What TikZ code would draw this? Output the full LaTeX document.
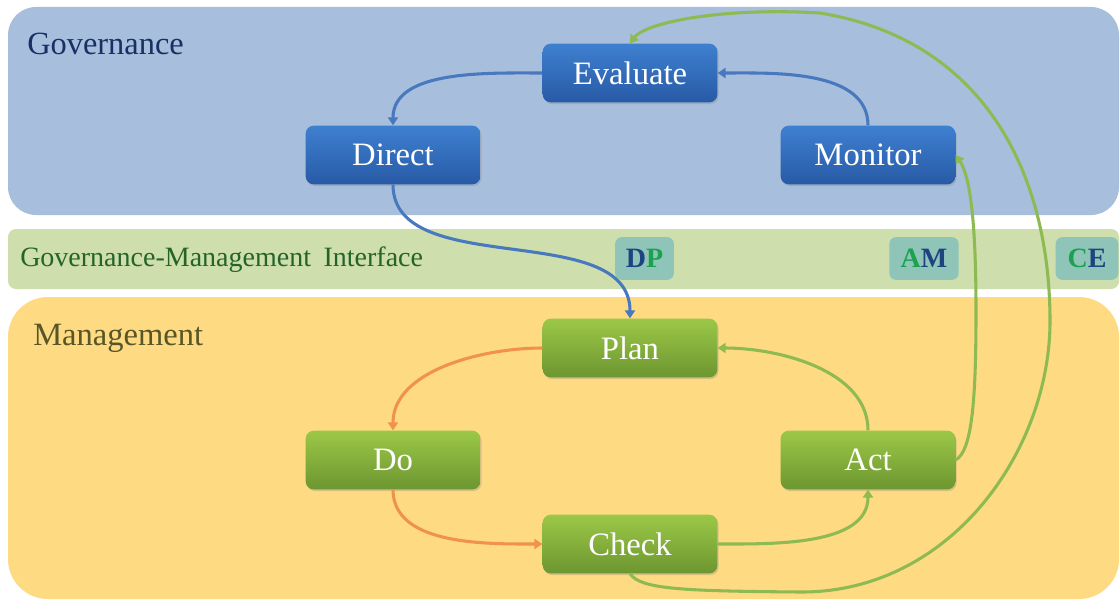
\documentclass[tikz,border=0pt]{standalone}
\usepackage{fontspec}
\setmainfont{Liberation Serif}
\usetikzlibrary{arrows.meta,shadows}

% band colours
\definecolor{govband}{RGB}{167,191,221}
\definecolor{gmiband}{RGB}{206,222,172}
\definecolor{mgtband}{RGB}{254,218,130}
% band titles
\definecolor{govtext}{RGB}{24,48,100}
\definecolor{gmitext}{RGB}{36,100,40}
\definecolor{mgttext}{RGB}{88,86,38}
% process boxes
\definecolor{bluetop}{RGB}{62,128,208}
\definecolor{bluebot}{RGB}{40,90,166}
\definecolor{greentop}{RGB}{156,200,72}
\definecolor{greenbot}{RGB}{108,150,48}
% connectors
\definecolor{bluearrow}{RGB}{72,120,190}
\definecolor{orangearrow}{RGB}{240,146,76}
\definecolor{greenarrow}{RGB}{142,186,82}
% interface badges
\definecolor{badgefill}{RGB}{143,196,184}
\definecolor{letblue}{RGB}{30,68,128}
\definecolor{letgreen}{RGB}{28,162,78}

\begin{document}
\begin{tikzpicture}[x=0.75pt,y=0.75pt,
  procbox/.style={rounded corners=6pt, minimum width=131pt, minimum height=44pt,
    draw=none, text=white, inner sep=0pt,
    font=\fontsize{24.5}{28}\selectfont,
    drop shadow={shadow xshift=0.9pt, shadow yshift=-1.3pt, opacity=0.3}},
  govproc/.style={procbox, top color=bluetop, bottom color=bluebot},
  mgtproc/.style={procbox, top color=greentop, bottom color=greenbot},
  badge/.style={rounded corners=5pt, fill=badgefill, minimum height=32pt,
    inner sep=0pt, font=\fontsize{21}{24}\selectfont\bfseries},
  bandtitle/.style={anchor=west, inner sep=0pt},
  conn/.style={line width=2.3pt, -{Triangle[length=6pt,width=7.5pt]}},
  blueconn/.style={conn, draw=bluearrow},
  orangeconn/.style={conn, draw=orangearrow},
  greenconn/.style={conn, draw=greenarrow},
]
\useasboundingbox (0,0) rectangle (1120,601);
\fill[white] (0,0) rectangle (1120,601);

% bands
\fill[govband, rounded corners=21pt] (8,386) rectangle (1119,594);
\fill[gmiband, rounded corners=6pt] (8,312) rectangle (1119,372);
\fill[mgtband, rounded corners=30pt] (8,2) rectangle (1119,304);

% band titles
\node[bandtitle, text=govtext, font=\fontsize{24.3}{28}\selectfont] (govtitle) at (27,557) {Governance};
\node[bandtitle, text=gmitext, font=\fontsize{21}{24}\selectfont] (gmititle) at (20,341) {Governance-Management\hspace{0.45em}Interface};
\node[bandtitle, text=mgttext, font=\fontsize{24.4}{28}\selectfont] (mgttitle) at (33,263) {Management};

% interface badges
\node[badge, minimum width=44pt] (dp) at (644.5,342.5) {\textcolor{letblue}{D}\textcolor{letgreen}{P}};
\node[badge, minimum width=52pt] (am) at (924,342.5) {\textcolor{letgreen}{A}\textcolor{letblue}{M}};
\node[badge, minimum width=47pt] (ce) at (1087,342.5) {\textcolor{letgreen}{C}\textcolor{letblue}{E}};

% governance cycle
\node[govproc] (ev) at (630,528) {Evaluate};
\node[govproc] (di) at (393,446) {Direct};
\node[govproc] (mo) at (868,446) {Monitor};

% management cycle
\node[mgtproc] (pl) at (630,253) {Plan};
\node[mgtproc] (do) at (393,141) {Do};
\node[mgtproc] (ac) at (868,141) {Act};
\node[mgtproc] (ch) at (630,57) {Check};

% governance connectors
\draw[blueconn] (ev.west) to[out=180, in=90, looseness=0.9] (di.north);
\draw[blueconn] (mo.north) to[out=90, in=0, looseness=0.9] (ev.east);
\draw[blueconn] (di.south) .. controls +(0,-96) and +(0,100) .. (pl.north);

% management connectors
\draw[orangeconn] (pl.west) to[out=180, in=90, looseness=0.9] (do.north);
\draw[orangeconn] (do.south) to[out=-90, in=180, looseness=0.9] (ch.west);
\draw[greenconn] (ch.east) to[out=0, in=-90, looseness=0.9] (ac.south);
\draw[greenconn] (ac.north) to[out=90, in=0, looseness=0.9] (pl.east);

% feedback from management to governance
\draw[greenconn] (ac.east) .. controls (972,150) and (976,200) .. (976,290)
  .. controls (976,380) and (970,425) .. (mo.east);
\draw[greenconn] (ch.south) .. controls (640,12) and (680,10) .. (800,9)
  .. controls (950,8) and (1050,150) .. (1050,280)
  .. controls (1050,420) and (990,560) .. (820,588)
  .. controls (720,594) and (645,578) .. (ev.north);
\end{tikzpicture}
\end{document}
